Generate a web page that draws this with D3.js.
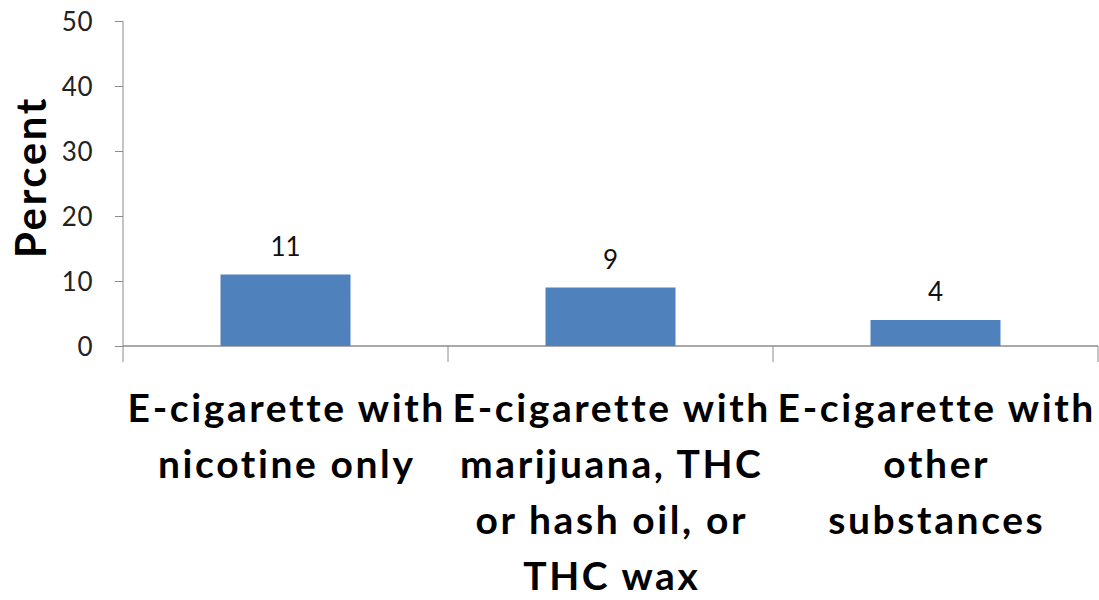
<!DOCTYPE html>
<html>
<head>
<meta charset="utf-8">
<script src="https://cdn.jsdelivr.net/npm/d3@7"></script>
<style>
  html, body { margin: 0; padding: 0; background: #fff; }
  svg { display: block; }
  text { font-variant-ligatures: none; font-kerning: normal; }
</style>
</head>
<body>
<svg id="chart" width="1099" height="600"></svg>
<script>
const categories = ["nicotine", "marijuana", "other"];
const categoryLabels = [
  ["E-cigarette with", "nicotine only"],
  ["E-cigarette with", "marijuana, THC", "or hash oil, or", "THC wax"],
  ["E-cigarette with", "other", "substances"]
];
const values = [11, 9, 4];
const yTicks = [0, 10, 20, 30, 40, 50];
const yTitle = "Percent";

(function () {
const svg = d3.select("#chart");
const font = "Lato, 'Open Sans', sans-serif";
const mLeft = 123, mRight = 1098, mTop = 21, mBottom = 346;
const ls = 2.6;

const y = d3.scaleLinear().domain([0, 50]).range([mBottom, mTop]);
const xCat = d3.scaleBand().domain(categories).range([mLeft, mRight]).padding(0);
const xBar = d3.scaleBand().domain(categories).range([mLeft, mRight]).paddingInner(0.6).paddingOuter(0.3);

const axisColor = "#8c8c8c";

// y axis
const yAxis = svg.append("g")
  .attr("transform", `translate(${mLeft},0)`)
  .call(d3.axisLeft(y).tickValues(yTicks).tickSize(8).tickPadding(22).tickSizeOuter(0));
yAxis.select(".domain").remove();
yAxis.selectAll(".tick line").attr("stroke", axisColor);
yAxis.selectAll(".tick text")
  .attr("font-family", font).attr("font-size", 26).attr("fill", "#222")
  .attr("letter-spacing", 0.5)
  .attr("dy", "0.36em");
svg.append("line")
  .attr("x1", mLeft).attr("x2", mLeft)
  .attr("y1", y(50)).attr("y2", mBottom + 16)
  .attr("stroke", axisColor).attr("stroke-width", 1);

// x axis
svg.append("line")
  .attr("x1", mLeft).attr("x2", mRight)
  .attr("y1", mBottom).attr("y2", mBottom)
  .attr("stroke", axisColor).attr("stroke-width", 1.5);
const boundaries = categories.map(c => xCat(c) + xCat.bandwidth());
svg.selectAll("line.xtick").data(boundaries).enter().append("line")
  .attr("class", "xtick")
  .attr("x1", d => d).attr("x2", d => d)
  .attr("y1", mBottom).attr("y2", mBottom + 16)
  .attr("stroke", axisColor);

// bars
svg.selectAll("rect.bar").data(values).enter().append("rect")
  .attr("class", "bar")
  .attr("x", (d, i) => xBar(categories[i]))
  .attr("width", xBar.bandwidth())
  .attr("y", d => y(d))
  .attr("height", d => y(0) - y(d))
  .attr("fill", "#4f81bd");

// value labels
svg.selectAll("text.val").data(values).enter().append("text")
  .attr("class", "val")
  .attr("x", (d, i) => xBar(categories[i]) + xBar.bandwidth() / 2)
  .attr("y", d => y(d) - 19)
  .attr("text-anchor", "middle")
  .attr("font-family", font).attr("font-size", 26)
  .attr("fill", "#111")
  .text(d => d);

// category labels
categoryLabels.forEach((lines, i) => {
  const cx = xCat(categories[i]) + xCat.bandwidth() / 2 + ls / 2;
  const t = svg.append("text")
    .attr("text-anchor", "middle")
    .attr("font-family", font).attr("font-weight", "bold").attr("font-size", 39)
    .attr("letter-spacing", ls)
    .attr("fill", "#000");
  lines.forEach((ln, j) => {
    t.append("tspan").attr("x", cx).attr("y", 422 + j * 56).text(ln);
  });
});

// y title
svg.append("text")
  .attr("transform", `translate(46, 177) rotate(-90)`)
  .attr("text-anchor", "middle")
  .attr("font-family", font).attr("font-weight", "bold").attr("font-size", 42)
  .attr("letter-spacing", ls)
  .attr("fill", "#000")
  .text(yTitle);
})();
</script>
</body>
</html>
